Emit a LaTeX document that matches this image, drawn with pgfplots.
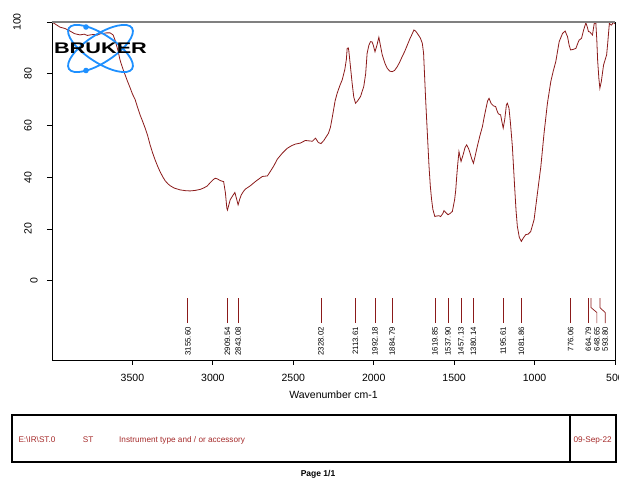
\documentclass[border=0pt]{standalone}
\usepackage{fontspec}
\setmainfont{Liberation Sans}
\usepackage{pgfplots}
\pgfplotsset{compat=1.18}
\definecolor{spec}{RGB}{139,26,26}
\definecolor{boxtxt}{RGB}{165,42,42}
\definecolor{brukerblue}{RGB}{30,144,255}
\begin{document}
\begin{tikzpicture}[x=1pt,y=1pt]
\useasboundingbox (0,0) rectangle (619,479);
\begin{axis}[
  scale only axis, width=563pt, height=338pt,
  at={(52pt,119pt)}, anchor=south west,
  xmin=500, xmax=4000, x dir=reverse,
  ymin=-30.65, ymax=100,
  xtick={500,1000,...,3500}, ytick={0,20,...,100},
  yticklabels={{\rotatebox{90}{0}\kern9pt},{\rotatebox{90}{20}\kern15pt},{\rotatebox{90}{40}\kern15pt},{\rotatebox{90}{60}\kern15pt},{\rotatebox{90}{80}\kern15pt},{\rotatebox{90}{100}\kern26pt}},
  /pgf/number format/assume math mode=true,
  /pgf/number format/1000 sep={},
  tick align=outside, xtick pos=lower, ytick pos=left,
  major tick length=5pt,
  tick style={black, line width=0.8pt},
  axis line style={black, line width=0.8pt},
  ticklabel style={font=\fontsize{10.5}{12}\selectfont},
  xticklabel style={anchor=north, inner sep=0pt, yshift=-9pt},
  yticklabel style={anchor=east, inner sep=0pt},
  xlabel={Wavenumber cm-1},
  xlabel style={font=\fontsize{10.5}{12}\selectfont, anchor=center, at={(axis description cs:0.5,-0.1015)}},
]
\addplot[spec, line width=0.8pt] coordinates {
(4000,100) (3975,99) (3950,98) (3920,97.5) (3888,96.5) (3860,95.5) (3826,95) (3800,95.3) (3780,94.8) (3763,95) (3740,95.2) (3720,94.9) (3701,95.4) (3680,95.6) (3660,95.8) (3639,95.8) (3620,95) (3608,93) (3590,89) (3577,85.3) (3560,82) (3545,79.5) (3530,77) (3514,74.5) (3500,72.2) (3483,70) (3468,67) (3452,64) (3436,61.5) (3421,59) (3405,56) (3390,52.5) (3375,49.5) (3359,46.7) (3343,44.2) (3327,42) (3310,40) (3296,38.6) (3280,37.5) (3265,36.7) (3240,35.8) (3203,35.1) (3170,34.8) (3141,34.7) (3110,34.9) (3078,35.3) (3055,35.9) (3035,36.6) (3015,38) (2995,39.2) (2985,39.6) (2970,39.3) (2954,38.7) (2933,38.3) (2922,34) (2913,28) (2909,27.3) (2902,29) (2892,31.3) (2875,33) (2863,34.1) (2852,31.5) (2843,29.3) (2833,31.5) (2823,33.2) (2810,34.5) (2798,35.4) (2767,36.7) (2736,38.3) (2710,39.5) (2692,40.3) (2661,40.5) (2643,42.2) (2620,44.5) (2599,47) (2568,49.3) (2537,51.2) (2510,52.2) (2487,52.8) (2456,53.2) (2425,54.2) (2395,54) (2381,53.9) (2362,55.1) (2344,53.4) (2328,53.0) (2310,54.2) (2300,55.2) (2281,57) (2269,59.3) (2258,63) (2240,69.5) (2227,72.5) (2210,75.5) (2196,77.6) (2180,81.5) (2170,85.5) (2165,89.8) (2158,90) (2155,89) (2145,83) (2134,76.3) (2124,71) (2113,68.6) (2100,69.5) (2082,71.2) (2062,75) (2050,80) (2041,87.9) (2030,91) (2020,92.4) (2010,92.3) (2003,91.1) (1992,88.5) (1980,91) (1968,94.1) (1960,91.5) (1947,87.3) (1930,84) (1916,82.1) (1900,81) (1885,80.8) (1870,81.3) (1854,82.7) (1840,84.3) (1823,86.6) (1806,88.8) (1791,91.1) (1775,93.5) (1760,95.5) (1750,96.9) (1740,96.5) (1729,95.6) (1710,93.8) (1698,91.8) (1690,88) (1677,69.9) (1665,55) (1656,44.1) (1648,36.5) (1640,31.3) (1632,27.5) (1620,24.8) (1610,25) (1594,25.1) (1584,24.8) (1570,26) (1563,27.1) (1550,26.2) (1538,25.5) (1525,26) (1511,26.8) (1497,31.3) (1490,35) (1484,40.3) (1477,45.5) (1470,49.9) (1462,47.5) (1457,46.1) (1445,48.5) (1432,51.5) (1422,52.5) (1410,51) (1401,49.3) (1390,47) (1380,45.4) (1370,48) (1356,51.9) (1340,56) (1324,59.6) (1314,63) (1304,66) (1292,69.5) (1283,70.5) (1270,68.5) (1256,67.6) (1242,67.3) (1232,65.5) (1225,64.5) (1211,64.1) (1200,60.5) (1195,59) (1185,62.5) (1175,68) (1169,68.6) (1159,66.7) (1150,61) (1138,51.9) (1124,36.4) (1115,27) (1107,21) (1095,16.8) (1082,15.2) (1070,16.5) (1055,17.8) (1040,18) (1024,19) (1003,23.6) (982,33.9) (961,44.1) (941,57) (920,68.6) (899,77) (884,81) (868,84.7) (847,92.4) (826,95.6) (810,96.5) (795,94.3) (785,91) (776,89.2) (760,89.4) (743,89.8) (730,92) (723,93) (708,93.7) (695,96.9) (681,99.7) (672,98) (665,96.3) (657,96.2) (649,95.6) (640,95) (629,99.5) (619,99.5) (613,93) (608,85.3) (600,78) (594,74.4) (585,77) (571,83.4) (552,87.3) (545,92) (535,99.5) (528,99) (521,98.8) (512,99.8) (504,99.5) (500,99.3)
};
\pgfplotsinvokeforeach{3155.60,2909.54,2843.08,2328.02,2113.61,1992.18,1884.79,1619.85,1537.90,1457.13,1380.14,1195.61,1081.86,776.06,664.79}{
  \addplot[spec, line width=0.7pt] coordinates {(#1,-6.7) (#1,-16.35)};
  \node[rotate=90, anchor=east, inner sep=0pt, font=\fontsize{7.8}{8}\selectfont] at (axis cs:#1,-17.9) {#1};
}
\addplot[spec, line width=0.7pt] coordinates {(648.65,-6.7) (648.65,-10.4) (612.5,-12.3) (612.5,-16.35)};
\node[rotate=90, anchor=east, inner sep=0pt, font=\fontsize{7.8}{8}\selectfont] at (axis cs:612.5,-17.9) {648.65};
\addplot[spec, line width=0.7pt] coordinates {(593.80,-6.7) (593.80,-10.4) (561,-12.3) (561,-16.35)};
\node[rotate=90, anchor=east, inner sep=0pt, font=\fontsize{7.8}{8}\selectfont] at (axis cs:561,-17.9) {593.80};
\draw[gray, line width=1.4pt] (rel axis cs:0,1) -- (rel axis cs:1,1);
\end{axis}
% Bruker logo
\begin{scope}[shift={(100.5,430.5)}]
  \draw[brukerblue, line width=1.8pt, rotate=33] (0,0) ellipse (37.6 and 14);
  \draw[brukerblue, line width=1.8pt, rotate=-33] (0,0) ellipse (37.6 and 14);
  \fill[brukerblue] (-14.5,21.5) circle (2.8);
  \fill[brukerblue] (-14.5,-22) circle (2.8);
  \node[inner sep=0pt] at (0,0) {\scalebox{1.41}[1]{\fontsize{15.4}{16}\selectfont\bfseries BRUKER}};
\end{scope}
% footer box
\draw[black, line width=1.1pt] (12,17) rectangle (616,64);
\draw[black, line width=1.1pt] (570,17) -- (570,64);
\begin{scope}[every node/.style={inner sep=0pt, anchor=west, text=boxtxt, font=\fontsize{8.2}{9}\selectfont}]
  \node at (18.3,39) {E:\textbackslash IR\textbackslash ST.0};
  \node at (82.7,39) {ST};
  \node at (119,39) {Instrument type and / or accessory};
  \node at (573.3,39) {09-Sep-22};
\end{scope}
\node[inner sep=0pt, font=\fontsize{8.5}{9}\selectfont\bfseries] at (318,4.5) {Page 1/1};
\end{tikzpicture}
\end{document}
